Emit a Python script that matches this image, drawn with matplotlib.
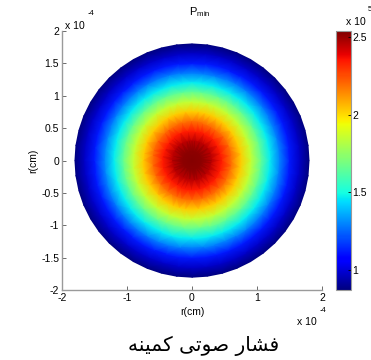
"""
Minimum acoustic pressure map on a circular disk (jet colormap)
"""
import matplotlib
matplotlib.use('Agg')
import matplotlib.pyplot as plt
import matplotlib.tri as mtri
import numpy as np

# ============================================================
# data: radial profile (r in 1e-4 cm, pressure in 1e5)
# ============================================================
radius_pts = [0.0, 0.15, 0.3, 0.45, 0.6, 0.75, 0.9, 1.05, 1.2, 1.35, 1.5, 1.65, 1.8]
pmin_pts   = [2.54, 2.52, 2.45, 2.34, 2.20, 2.03, 1.85, 1.66, 1.47, 1.29, 1.12, 0.98, 0.87]
n_theta = 48

axis_ticks = [-2, -1.5, -1, -0.5, 0, 0.5, 1, 1.5, 2]
xaxis_ticks = [-2, -1, 0, 1, 2]
cbar_ticks = [1, 1.5, 2, 2.5]
vmin, vmax = 0.87, 2.54

# Persian caption in visual (presentation-form) order: "فشار صوتی کمینه"
caption = ('\uFEEA\uFEE8\uFBFF\uFEE4\uFB90 '
           '\uFBFD\uFE97\uFEEE\uFEBB '
           '\uFEAD\uFE8E\uFEB8\uFED3')

plt.rcParams['font.family'] = ['Liberation Sans', 'DejaVu Sans']
grey = '#9a9a9a'

fig = plt.figure(figsize=(3.71, 3.60), dpi=100)
ax = fig.add_axes([0.167, 0.194, 0.701, 0.720])
cax = fig.add_axes([0.906, 0.194, 0.040, 0.720])

# nodes: center + rings
theta = np.linspace(0, 2 * np.pi, n_theta, endpoint=False)
xs, ys, vs = [0.0], [0.0], [pmin_pts[0]]
for r, v in zip(radius_pts[1:], pmin_pts[1:]):
    xs.extend(r * np.cos(theta))
    ys.extend(r * np.sin(theta))
    vs.extend([v] * n_theta)
tri = mtri.Triangulation(xs, ys)
mesh = ax.tripcolor(tri, vs, shading='gouraud', cmap='jet', vmin=vmin, vmax=vmax)

ax.set_xlim(-2, 2)
ax.set_ylim(-2, 2)
ax.set_xticks(xaxis_ticks)
ax.set_yticks(axis_ticks)
ax.set_xticklabels(['-2', '-1', '0', '1', '2'])
ax.set_yticklabels(['-2', '-1.5', '-1', '-0.5', '0', '0.5', '1', '1.5', '2'])
for s in ['top', 'right']:
    ax.spines[s].set_visible(False)
for s in ['left', 'bottom']:
    ax.spines[s].set_color(grey)
    ax.spines[s].set_linewidth(1.0)
ax.tick_params(direction='in', length=3, width=0.6, color='#555555', labelsize=7.5, pad=2)
ax.set_xlabel('r(cm)', fontsize=7.5, labelpad=3)
ax.set_ylabel('r(cm)', fontsize=7.5, labelpad=2)
ax.text(0.53, 1.045, 'P$_{\\mathregular{min}}$', transform=ax.transAxes,
        fontsize=8, ha='center', va='bottom')

# MATLAB-style exponent labels
ax.text(0.012, 1.0, 'x 10', transform=ax.transAxes, fontsize=7.5, va='bottom', ha='left')
ax.text(0.10, 1.055, '-4', transform=ax.transAxes, fontsize=5.5, va='bottom', ha='left')
ax.text(0.905, -0.105, 'x 10', transform=ax.transAxes, fontsize=7.5, va='top', ha='left')
ax.text(0.99, -0.065, '-4', transform=ax.transAxes, fontsize=5.5, va='top', ha='left')

cb = fig.colorbar(mesh, cax=cax, ticks=cbar_ticks)
cb.ax.set_yticklabels(['1', '1.5', '2', '2.5'])
cb.outline.set_edgecolor(grey)
cb.outline.set_linewidth(0.8)
cb.ax.tick_params(direction='in', length=2, width=0.6, labelsize=7.5, pad=1)
fig.text(0.932, 0.925, 'x 10', fontsize=7.5, va='bottom', ha='left')
fig.text(0.992, 0.965, '5', fontsize=5.5, va='bottom', ha='left')

fig.text(0.55, 0.04, caption, fontsize=14.5, ha='center', va='center',
         family=['DejaVu Sans', 'Noto Sans'])

fig.savefig('out.png', dpi=100)
plt.close()
print("Saved: out.png")
